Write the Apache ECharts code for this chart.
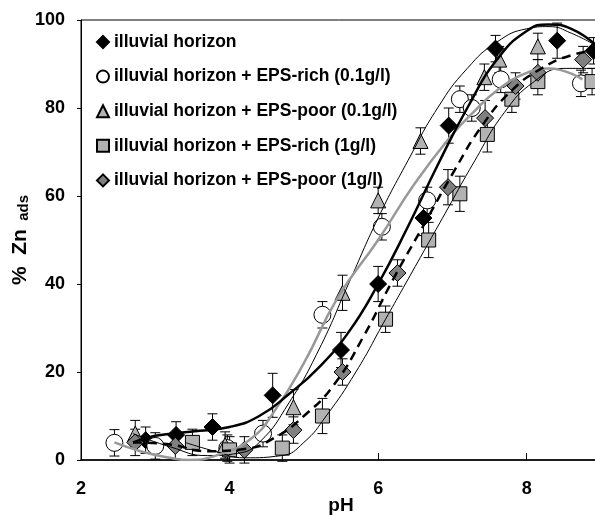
<!DOCTYPE html>
<html>
<head>
<meta charset="utf-8">
<script src="https://cdn.jsdelivr.net/npm/echarts@6/dist/echarts.min.js"></script>
<style>html,body{margin:0;padding:0;background:#fff}#c{width:595px;height:518px}</style>
</head>
<body>
<div id="c"></div>
<script>
// ---- data ----
const seriesNames = [
  'illuvial horizon',
  'illuvial horizon + EPS-rich (0.1g/l)',
  'illuvial horizon + EPS-poor (0.1g/l)',
  'illuvial horizon + EPS-rich (1g/l)',
  'illuvial horizon + EPS-poor (1g/l)'
];
const xTicks = [2, 4, 6, 8];
const yTicks = [0, 20, 40, 60, 80, 100];

const phBlack = [2.87, 3.28, 3.77, 4.58, 5.5, 6.0, 6.61, 6.95, 7.58, 8.41, 8.9];
const znBlack = [4.5, 5.7, 7.5, 14.7, 25, 40, 55, 76, 93.5, 95.3, 93];
const errBlack = [3, 3, 3, 5, 4, 4, 4, 4, 3, 4, 3];

const phRich01 = [2.45, 3.0, 3.97, 4.45, 5.25, 6.05, 6.66, 7.1, 7.26, 7.65, 8.73];
const znRich01 = [3.9, 3.2, 2.7, 6, 33, 53, 59, 82, 80, 86.5, 85.6];
const errRich01 = [3, 3, 3, 3, 3, 3, 3, 3, 3, 3, 3];

const phPoor01 = [2.73, 3.94, 4.86, 5.52, 6.0, 6.57, 7.43, 7.63, 8.15];
const znPoor01 = [6, 3.4, 12, 38, 59, 72.5, 87, 91, 94];
const errPoor01 = [3, 3, 4, 4, 3, 3, 3, 3, 3];

const phRich1 = [3.5, 4.0, 4.71, 5.25, 6.1, 6.68, 7.1, 7.47, 7.8, 8.15, 8.88];
const znRich1 = [4, 2.3, 2.7, 10, 32, 50, 60.5, 74, 82, 86, 86];
const errRich1 = [3, 3, 3, 4, 3, 4, 4, 4, 3, 3, 3];

const phPoor1 = [2.73, 3.27, 4.2, 4.86, 5.52, 6.26, 6.94, 7.44, 7.85, 8.15, 8.76];
const znPoor1 = [4, 3.2, 2.3, 6.8, 20, 42.5, 62, 77.7, 85, 88, 91];
const errPoor1 = [3, 3, 3, 3, 3, 3, 4, 4, 3, 3, 3];

// fitted curves
const fitBlackPh = [2.7, 3.0, 3.5, 4.0, 4.4, 4.8, 5.2, 5.6, 6.0, 6.4, 6.8, 7.2, 7.6, 8.0, 8.3, 8.6, 8.95];
const fitBlackZn = [4, 5.5, 6.5, 7.5, 10, 15, 21, 29, 40, 53, 67, 80, 91, 97.5, 99, 98, 94];

const fitRich01Ph = [2.45, 2.8, 3.2, 3.45, 3.9, 4.3, 4.6, 5.0, 5.46, 6.0, 6.5, 7.0, 7.28, 7.6, 8.0, 8.3, 8.75];
const fitRich01Zn = [4, 2, 0.5, 0, 1.5, 5, 11, 22, 37, 50, 63, 74, 79, 84, 88, 89, 86.5];

const fitPoor01Ph = [2.7, 3.2, 3.7, 4.1, 4.4, 4.8, 5.2, 5.6, 6.0, 6.4, 6.8, 7.2, 7.6, 8.0, 8.3, 8.6, 8.95];
const fitPoor01Zn = [6, 3, 1, 1.5, 4, 13, 25, 40, 55, 68, 80, 89, 95, 98, 98.5, 97, 94];

const fitRich1Ph = [3.4, 3.8, 4.2, 4.7, 5.0, 5.3, 5.7, 6.1, 6.5, 6.9, 7.3, 7.7, 8.1, 8.5, 8.95];
const fitRich1Zn = [4, 2, 0.5, 1, 4, 10, 20, 32, 44, 56, 68, 79, 86, 89, 89];

const fitPoor1Ph = [2.7, 3.2, 3.7, 4.2, 4.6, 5.0, 5.4, 5.8, 6.2, 6.6, 7.0, 7.4, 7.8, 8.2, 8.6, 8.95];
const fitPoor1Zn = [4, 3.5, 2, 2.5, 5, 10, 17, 28, 41, 53, 65, 76, 84, 89, 92, 93];

// ---- chart ----
const FONT = 'Liberation Sans, Arial, sans-serif';
function pts(xs, ys) { return xs.map((x, i) => [x, ys[i]]); }
function errPts(xs, ys, es) { return xs.map((x, i) => [x, ys[i], es[i]]); }

function errSeries(xs, ys, es) {
  return {
    type: 'custom', z: 1, silent: true,
    data: errPts(xs, ys, es),
    renderItem: function (params, api) {
      const x = api.value(0), y = api.value(1), e = api.value(2);
      const t = api.coord([x, y + e]);
      const b = api.coord([x, y - e]);
      const w = 5;
      const st = { stroke: '#000', lineWidth: 1 };
      return {
        type: 'group',
        children: [
          { type: 'line', shape: { x1: t[0], y1: t[1], x2: b[0], y2: b[1] }, style: st },
          { type: 'line', shape: { x1: t[0] - w, y1: t[1], x2: t[0] + w, y2: t[1] }, style: st },
          { type: 'line', shape: { x1: b[0] - w, y1: b[1], x2: b[0] + w, y2: b[1] }, style: st }
        ]
      };
    }
  };
}

const markerStyles = [
  { symbol: 'diamond', size: 17, color: '#000000' },
  { symbol: 'circle', size: 17, color: '#ffffff' },
  { symbol: 'triangle', size: 15, color: '#b2b2b2' },
  { symbol: 'rect', size: 14, color: '#b2b2b2' },
  { symbol: 'diamond', size: 17, color: '#808080' }
];
const scatterData = [
  pts(phBlack, znBlack), pts(phRich01, znRich01), pts(phPoor01, znPoor01),
  pts(phRich1, znRich1), pts(phPoor1, znPoor1)
];

const series = [];
series.push(errSeries(phBlack, znBlack, errBlack));
series.push(errSeries(phRich01, znRich01, errRich01));
series.push(errSeries(phPoor01, znPoor01, errPoor01));
series.push(errSeries(phRich1, znRich1, errRich1));
series.push(errSeries(phPoor1, znPoor1, errPoor1));

seriesNames.forEach((n, i) => {
  const m = markerStyles[i];
  series.push({
    name: n, type: 'scatter', z: 2,
    symbol: m.symbol, symbolSize: m.size,
    data: scatterData[i],
    itemStyle: { color: m.color, borderColor: '#000', borderWidth: 1, opacity: 1 },
    emphasis: { disabled: true }
  });
});

function curve(xs, ys, ls) {
  return {
    type: 'line', z: 3, smooth: 0.5, showSymbol: false, silent: true,
    data: pts(xs, ys), lineStyle: ls
  };
}
series.push(curve(fitRich1Ph, fitRich1Zn, { color: '#000', width: 1 }));
series.push(curve(fitPoor01Ph, fitPoor01Zn, { color: '#000', width: 1 }));
series.push(curve(fitRich01Ph, fitRich01Zn, { color: '#999999', width: 2.5 }));
series.push(curve(fitPoor1Ph, fitPoor1Zn, { color: '#000', width: 2.5, type: [9, 6] }));
series.push(curve(fitBlackPh, fitBlackZn, { color: '#000', width: 2.5 }));

const chart = echarts.init(document.getElementById('c'), null, { renderer: 'canvas' });
chart.setOption({
  animation: false,
  backgroundColor: '#fff',
  textStyle: { fontFamily: FONT },
  grid: {
    left: 81, top: 20, width: 520, height: 440,
    outerBoundsMode: 'none', containLabel: false,
    show: true, borderColor: '#000', borderWidth: 1, backgroundColor: 'transparent'
  },
  legend: {
    data: seriesNames, orient: 'vertical', left: 96, top: 33, padding: 0,
    itemWidth: 12, itemHeight: 12, itemGap: 16.6,
    textStyle: { fontFamily: FONT, fontWeight: 'bold', fontSize: 17.5, color: '#000', lineHeight: 18 },
    selectedMode: false
  },
  xAxis: {
    type: 'value', min: xTicks[0], max: 9, interval: 2,
    name: 'pH', nameLocation: 'middle', nameGap: 36, nameMoveOverlap: false,
    nameTextStyle: { fontFamily: FONT, fontWeight: 'bold', fontSize: 19, color: '#000' },
    axisLine: { lineStyle: { color: '#000', width: 1.5 } },
    axisTick: { inside: true, length: 7, lineStyle: { color: '#000', width: 1 } },
    axisLabel: {
      margin: 20, fontFamily: FONT, fontWeight: 'bold', fontSize: 18, color: '#000',
      customValues: xTicks, formatter: v => xTicks.includes(v) ? String(v) : ''
    },
    splitLine: { show: false }
  },
  yAxis: {
    type: 'value', min: yTicks[0], max: yTicks[yTicks.length - 1], interval: 20,
    name: '{b|%  Zn}{s|  ads}', nameLocation: 'middle', nameGap: 50, nameRotate: 90, nameMoveOverlap: false,
    nameTextStyle: {
      rich: {
        b: { fontFamily: FONT, fontWeight: 'bold', fontSize: 21, color: '#000' },
        s: { fontFamily: FONT, fontWeight: 'bold', fontSize: 15, color: '#000', padding: [7, 0, 0, 0], verticalAlign: 'bottom' }
      }
    },
    axisLine: { show: true, lineStyle: { color: '#000', width: 1 } },
    axisTick: { show: true, inside: false, length: 4, lineStyle: { color: '#000' } },
    axisLabel: { margin: 16, fontFamily: FONT, fontWeight: 'bold', fontSize: 18, color: '#000' },
    splitLine: { show: false }
  },
  series: series
});
</script>
</body>
</html>
